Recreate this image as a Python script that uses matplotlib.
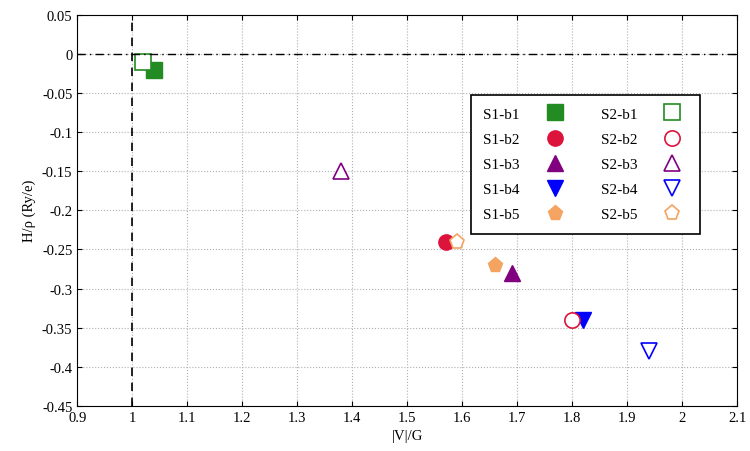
import matplotlib.pyplot as plt
from matplotlib.ticker import FuncFormatter

plt.rcParams['font.family'] = ['Liberation Serif', 'DejaVu Serif']

labels = ['b1', 'b2', 'b3', 'b4', 'b5']
colors = ['#228b22', '#dc143c', '#800080', '#0000ff', '#f4a460']
markers = ['s', 'o', '^', 'v', 'p']
s1_x = [1.04, 1.57, 1.69, 1.82, 1.66]
s1_y = [-0.02, -0.24, -0.28, -0.34, -0.27]
s2_x = [1.02, 1.80, 1.38, 1.94, 1.59]
s2_y = [-0.01, -0.34, -0.15, -0.38, -0.24]

fig = plt.figure(figsize=(7.5, 4.52), dpi=100)
ax = fig.add_axes([0.103, 0.1, 0.88, 0.865])

handles = []
for i in range(5):
    h = ax.plot(s1_x[i], s1_y[i], linestyle='none', marker=markers[i], ms=11,
                color=colors[i], label='S1-' + labels[i])[0]
    handles.append(h)
for i in range(5):
    h = ax.plot(s2_x[i], s2_y[i], linestyle='none', marker=markers[i], ms=11,
                mfc='white', mec=colors[i], mew=1.2, label='S2-' + labels[i])[0]
    handles.append(h)

ax.axhline(0, color='black', ls=(0, (6, 3, 1, 3)), lw=1)
ax.axvline(1, color='black', ls=(0, (5, 4)), lw=1.2)

ax.set_xlim(0.9, 2.1)
ax.set_ylim(-0.45, 0.05)
ax.set_xticks([0.9 + 0.1 * i for i in range(13)])
ax.set_yticks([-0.45 + 0.05 * i for i in range(11)])
fmt = FuncFormatter(lambda v, p: '0' if abs(v) < 1e-9 else f'{v:.2g}')
ax.xaxis.set_major_formatter(fmt)
ax.yaxis.set_major_formatter(fmt)
ax.tick_params(direction='in', top=True, right=True, labelsize=10.5)
ax.grid(True, ls=':', color='#b0b0b0', lw=0.8)
ax.set_xlabel('|V|/G', fontsize=10.5)
ax.set_ylabel('H/ρ (Ry/e)', fontsize=10.5)

leg = ax.legend(handles=handles, ncol=2, markerfirst=False, loc='upper left',
                bbox_to_anchor=(0.585, 0.815), fontsize=11, fancybox=False,
                edgecolor='black', framealpha=1, labelspacing=0.75,
                columnspacing=2.0, handletextpad=1.3, borderpad=0.8)
leg.get_frame().set_linewidth(1.2)

fig.savefig('out.png', dpi=100)
